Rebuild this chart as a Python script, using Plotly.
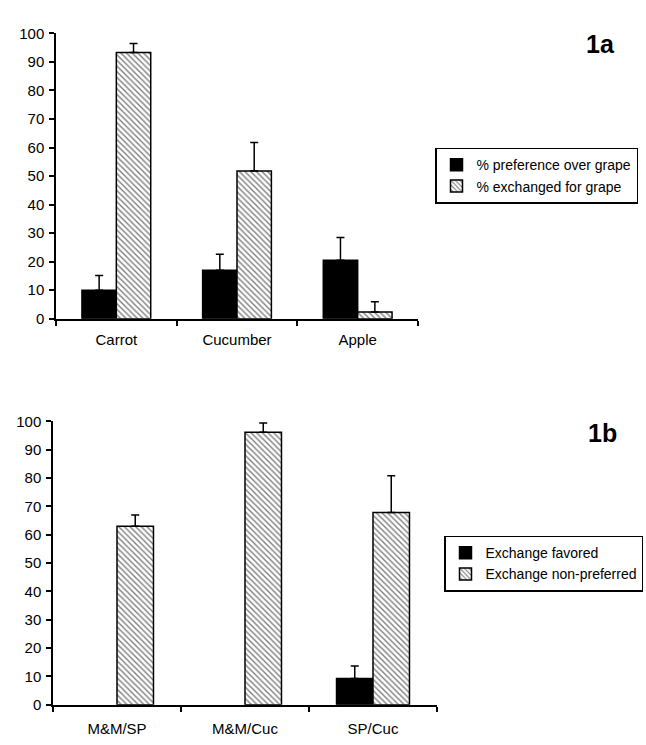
import plotly.graph_objects as go

# ---- data: panel 1a ----
cats_a = ["Carrot", "Cucumber", "Apple"]
pref_a = [10, 17, 20.5]
pref_a_err = [5.2, 5.6, 8.0]
exch_a = [93.3, 51.8, 2.4]
exch_a_err = [3.2, 10.0, 3.6]

# ---- data: panel 1b ----
cats_b = ["M&M/SP", "M&M/Cuc", "SP/Cuc"]
fav_b = [0, 0, 9.3]
fav_b_err = [0, 0, 4.4]
nonpref_b = [63, 96.2, 67.8]
nonpref_b_err = [4.0, 3.2, 13.0]

yticks = [0, 10, 20, 30, 40, 50, 60, 70, 80, 90, 100]

FONT = "Liberation Sans, Arial, sans-serif"
W, H = 646, 745


def px_x(x):
    return x / W


def px_y(y):
    return (H - y) / H


hatch = dict(shape="\\", fgcolor="black", bgcolor="white", size=4, solidity=0.35, fillmode="overlay")


def shown(vals):
    return [v if v > 0 else None for v in vals]


def errbar(vals, arr):
    arr = [e if v > 0 else None for v, e in zip(vals, arr)]
    return dict(type="data", symmetric=False, array=arr, arrayminus=[0] * len(arr),
                color="black", thickness=1.5, width=4)


fig = go.Figure()

fig.add_trace(go.Bar(x=cats_a, y=shown(pref_a), name="% preference over grape",
                     marker=dict(color="black", line=dict(color="black", width=1.5)),
                     error_y=errbar(pref_a, pref_a_err), xaxis="x", yaxis="y", legend="legend"))
fig.add_trace(go.Bar(x=cats_a, y=shown(exch_a), name="% exchanged for grape",
                     marker=dict(color="white", pattern=hatch, line=dict(color="black", width=1.5)),
                     error_y=errbar(exch_a, exch_a_err), xaxis="x", yaxis="y", legend="legend"))

fig.add_trace(go.Bar(x=cats_b, y=shown(fav_b), name="Exchange favored",
                     marker=dict(color="black", line=dict(color="black", width=1.5)),
                     error_y=errbar(fav_b, fav_b_err), xaxis="x2", yaxis="y2", legend="legend2"))
fig.add_trace(go.Bar(x=cats_b, y=shown(nonpref_b), name="Exchange non-preferred",
                     marker=dict(color="white", pattern=hatch, line=dict(color="black", width=1.5)),
                     error_y=errbar(nonpref_b, nonpref_b_err), xaxis="x2", yaxis="y2", legend="legend2"))

axis_common = dict(showline=True, linecolor="black", linewidth=1.5, ticks="outside",
                   tickcolor="black", ticklen=5, tickwidth=1.5, showgrid=False, zeroline=False,
                   tickfont=dict(family=FONT, size=15, color="black"))

fig.update_layout(
    width=W, height=H,
    margin=dict(l=0, r=0, t=0, b=0),
    paper_bgcolor="white", plot_bgcolor="white",
    barmode="group", bargap=0.43, bargroupgap=0,
    font=dict(family=FONT, size=15, color="black"),
    xaxis=dict(domain=[px_x(56), px_x(418)], anchor="y", type="category",
               tickson="boundaries", ticklabelstandoff=6, **axis_common),
    yaxis=dict(domain=[px_y(317), px_y(25)], anchor="x", range=[0, 100],
               tickvals=yticks, ticklabelstandoff=2, **axis_common),
    xaxis2=dict(domain=[px_x(53), px_x(437)], anchor="y2", type="category",
                tickson="boundaries", ticklabelstandoff=9, **axis_common),
    yaxis2=dict(domain=[px_y(712), px_y(422)], anchor="x2", range=[0, 100],
                tickvals=yticks, ticklabelstandoff=2, **axis_common),
    legend=dict(x=px_x(638), y=px_y(142), xanchor="right", yanchor="top",
                bordercolor="black", borderwidth=1.5, bgcolor="white",
                font=dict(family=FONT, size=14), itemwidth=30, tracegroupgap=0),
    legend2=dict(x=px_x(643), y=px_y(539), xanchor="right", yanchor="top",
                 bordercolor="black", borderwidth=1.5, bgcolor="white",
                 font=dict(family=FONT, size=14), itemwidth=30, tracegroupgap=0),
    annotations=[
        dict(text="<b>1a</b>", x=px_x(600), y=px_y(36), xref="paper", yref="paper",
             xanchor="center", yanchor="middle",
             showarrow=False, font=dict(family=FONT, size=25, color="black")),
        dict(text="<b>1b</b>", x=px_x(602), y=px_y(434), xref="paper", yref="paper",
             xanchor="center", yanchor="middle",
             showarrow=False, font=dict(family=FONT, size=25, color="black")),
    ],
)

fig.write_html("out.html", config={"displayModeBar": False},
               post_script="document.body.style.margin='0px';")
